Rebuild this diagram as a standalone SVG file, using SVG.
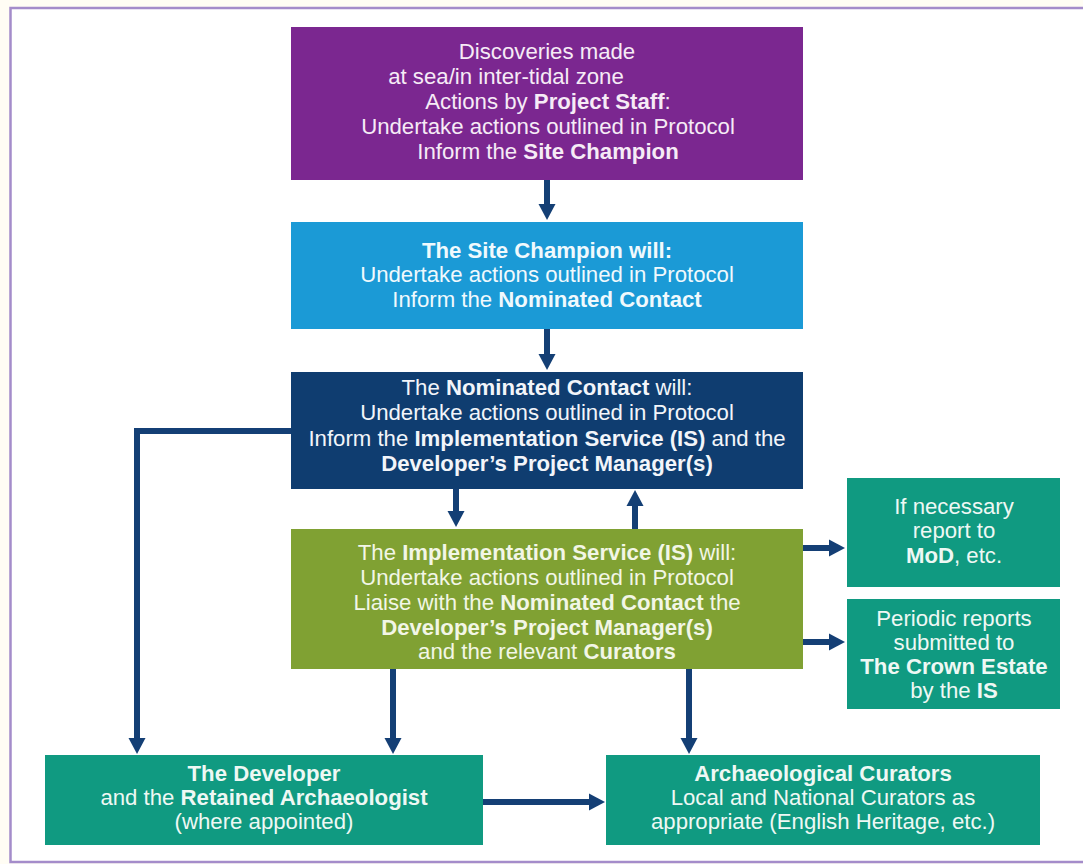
<svg xmlns="http://www.w3.org/2000/svg" width="1083" height="864" viewBox="0 0 1083 864">
<style>
text{font-family:"Liberation Sans",Arial,sans-serif;font-size:22.2px;text-anchor:middle}
.b{font-weight:bold}
.tp{fill:#f6ebf6}
.tb{fill:#f0f9fd}
.tn{fill:#f2f5fa}
.tg{fill:#f2f6e6}
.tt{fill:#eef8f4}
.conn{fill:none;stroke:#143f75;stroke-width:6}
</style>
<defs>
<marker id="ah" markerUnits="userSpaceOnUse" markerWidth="18" markerHeight="20" refX="1" refY="9" orient="auto" viewBox="0 0 18 18">
<path d="M0,0.5 L16,9 L0,17.5 z" fill="#143f75"/>
</marker>
</defs>
<rect x="0" y="0" width="1083" height="864" fill="#fffdf4"/>
<rect x="10.5" y="8" width="1090" height="854" fill="#ffffff" stroke="#a48cca" stroke-width="2.5"/>

<g id="connectors">
<line class="conn" x1="547" y1="180" x2="547" y2="205" marker-end="url(#ah)"/>
<line class="conn" x1="547" y1="329" x2="547" y2="355" marker-end="url(#ah)"/>
<path class="conn" d="M291,431 H137 V739" marker-end="url(#ah)"/>
<line class="conn" x1="456" y1="489" x2="456" y2="512" marker-end="url(#ah)"/>
<line class="conn" x1="635" y1="529" x2="635" y2="505" marker-end="url(#ah)"/>
<line class="conn" x1="803" y1="548" x2="830" y2="548" marker-end="url(#ah)"/>
<line class="conn" x1="803" y1="642" x2="830" y2="642" marker-end="url(#ah)"/>
<line class="conn" x1="393" y1="668" x2="393" y2="739" marker-end="url(#ah)"/>
<line class="conn" x1="689" y1="668" x2="689" y2="739" marker-end="url(#ah)"/>
<line class="conn" x1="483" y1="802" x2="590" y2="802" marker-end="url(#ah)"/>
</g>

<g id="discoveries">
<rect x="291" y="27" width="512" height="153" fill="#7b2790"/>
<text class="tp" x="547" y="59">Discoveries made</text>
<text class="tp" x="506" y="84">at sea/in inter-tidal zone</text>
<text class="tp" x="548" y="109">Actions by <tspan class="b">Project Staff</tspan>:</text>
<text class="tp" x="548" y="134">Undertake actions outlined in Protocol</text>
<text class="tp" x="548" y="159">Inform the <tspan class="b">Site Champion</tspan></text>
</g>

<g id="site-champion">
<rect x="291" y="222" width="512" height="107" fill="#1b9ad6"/>
<text class="tb b" x="547" y="258">The Site Champion will:</text>
<text class="tb" x="547" y="282">Undertake actions outlined in Protocol</text>
<text class="tb" x="547" y="307">Inform the <tspan class="b">Nominated Contact</tspan></text>
</g>

<g id="nominated-contact">
<rect x="291" y="372" width="512" height="117" fill="#0f3d70"/>
<text class="tn" x="547" y="395">The <tspan class="b">Nominated Contact</tspan> will:</text>
<text class="tn" x="547" y="420">Undertake actions outlined in Protocol</text>
<text class="tn" x="547" y="446">Inform the <tspan class="b">Implementation Service (IS)</tspan> and the</text>
<text class="tn b" x="547" y="471">Developer’s Project Manager(s)</text>
</g>

<g id="implementation-service">
<rect x="291" y="529" width="512" height="140" fill="#80a133"/>
<text class="tg" x="547" y="560">The <tspan class="b">Implementation Service (IS)</tspan> will:</text>
<text class="tg" x="547" y="585">Undertake actions outlined in Protocol</text>
<text class="tg" x="547" y="610">Liaise with the <tspan class="b">Nominated Contact</tspan> the</text>
<text class="tg b" x="547" y="635">Developer’s Project Manager(s)</text>
<text class="tg" x="547" y="659">and the relevant <tspan class="b">Curators</tspan></text>
</g>

<g id="mod">
<rect x="847" y="478" width="213" height="109" fill="#109a81"/>
<text class="tt" x="954" y="514">If necessary</text>
<text class="tt" x="954" y="538">report to</text>
<text class="tt" x="954" y="563"><tspan class="b">MoD</tspan>, etc.</text>
</g>

<g id="crown-estate">
<rect x="847" y="599" width="213" height="110" fill="#109a81"/>
<text class="tt" x="954" y="626">Periodic reports</text>
<text class="tt" x="954" y="650">submitted to</text>
<text class="tt b" x="954" y="674">The Crown Estate</text>
<text class="tt" x="954" y="698">by the <tspan class="b">IS</tspan></text>
</g>

<g id="developer">
<rect x="45" y="755" width="438" height="90" fill="#109a81"/>
<text class="tt b" x="264" y="781">The Developer</text>
<text class="tt" x="264" y="805">and the <tspan class="b">Retained Archaeologist</tspan></text>
<text class="tt" x="264" y="829">(where appointed)</text>
</g>

<g id="curators">
<rect x="606" y="755" width="434" height="90" fill="#109a81"/>
<text class="tt b" x="823" y="781">Archaeological Curators</text>
<text class="tt" x="823" y="805">Local and National Curators as</text>
<text class="tt" x="823" y="829">appropriate (English Heritage, etc.)</text>
</g>
</svg>
